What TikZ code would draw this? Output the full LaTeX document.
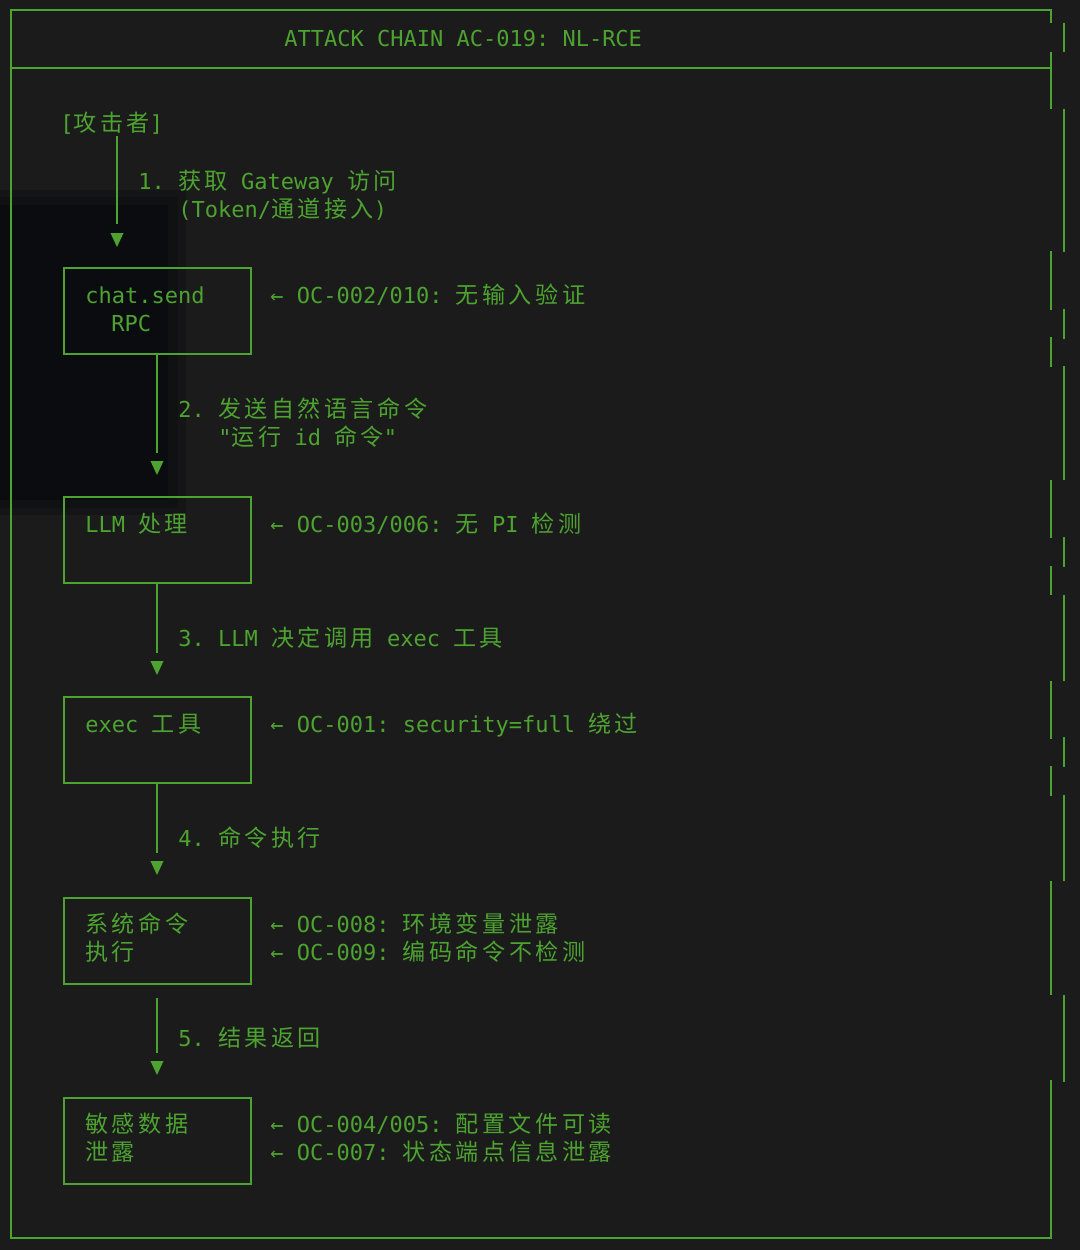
\documentclass[tikz,border=0pt]{standalone}
\usepackage{fontspec}
\newfontfamily\monofont{DejaVu Sans Mono}
\newfontfamily\cjkfont[Scale=1.05, LetterSpace=15]{Noto Sans CJK SC}
\newcommand\zh[1]{{\cjkfont #1}}
\usetikzlibrary{calc}
\frenchspacing

\definecolor{termgreen}{RGB}{77,163,48}
\definecolor{termbg}{RGB}{27,27,27}
\definecolor{termdark}{RGB}{11,12,16}

\tikzset{
  txt/.style={anchor=base west, inner sep=0pt, text=termgreen,
    font=\monofont\fontsize{11}{13}\selectfont},
  stepbox/.style={draw=termgreen, line width=1pt, anchor=north west,
    minimum width=93.5pt, minimum height=43pt, inner sep=0pt},
  flowline/.style={draw=termgreen, line width=1pt},
  frameline/.style={draw=termgreen, line width=1pt},
  tipfill/.style={fill=termgreen}
}

\begin{document}
\begin{tikzpicture}[x=0.5pt, y=-0.5pt]
    \useasboundingbox (0,0) rectangle (1080,1250);

    % Hintergrund (Terminal)
    \fill[termbg] (0,0) rectangle (1080,1250);
    \fill[termdark!40!termbg] (0,190) rectangle (186,515);
    \fill[termdark!70!termbg] (0,197) rectangle (178,508);
    \fill[termdark] (0,205) rectangle (168,500);

    % Rahmen und Titelzeile
    \draw[frameline] (1051,23) -- (1051,10) -- (11,10) -- (11,1238) -- (1051,1238) -- (1051,1080);
    \draw[frameline] (11,68) -- (1051,68);
    \foreach \xx/\ya/\yb in {1051/52/109, 1051/251/310, 1051/337/367, 1051/480/538,
        1051/566/595, 1051/681/739, 1051/766/796, 1051/881/995,
        1064/23/52, 1064/109/252, 1064/309/339, 1064/366/480, 1064/537/567,
        1064/595/681, 1064/737/767, 1064/795/881, 1064/995/1082}
      \draw[frameline] (\xx,\ya) -- (\xx,\yb);
    \node[txt] (title) at (284,46) {ATTACK CHAIN AC-019: NL-RCE};

    % Angreifer
    \node[txt] (attacker) at (60,131) {[\zh{攻击者}]};

    % Stufen der Kette
    \node[stepbox] (box1) at (63,267) {};
    \node[stepbox] (box2) at (63,496) {};
    \node[stepbox] (box3) at (63,696) {};
    \node[stepbox] (box4) at (63,897) {};
    \node[stepbox] (box5) at (63,1097) {};

    \node[txt] (box1a) at (85,303) {chat.send};
    \node[txt] (box1b) at (111,331) {RPC};
    \node[txt] (box2a) at (85,532) {LLM \zh{处理}};
    \node[txt] (box3a) at (85,732) {exec \zh{工具}};
    \node[txt] (box4a) at (85,932) {\zh{系统命令}};
    \node[txt] (box4b) at (85,960) {\zh{执行}};
    \node[txt] (box5a) at (85,1132) {\zh{敏感数据}};
    \node[txt] (box5b) at (85,1160) {\zh{泄露}};

    % Pfeilspitzen
    \coordinate (t1) at (117,240);
    \coordinate (t2) at (157,468);
    \coordinate (t3) at (157,668);
    \coordinate (t4) at (157,868);
    \coordinate (t5) at (157,1068);
    \foreach \t in {t1,t2,t3,t4,t5}
      \fill[tipfill] (\t) ++(-6.5,-7) -- ++(13,0) -- ++(-6.5,14) -- cycle;

    % Verbindungen
    \draw[flowline] ($(attacker.south -| t1)+(0,2)$) -- ($(t1)+(0,-16)$);
    \draw[flowline] (box1.south -| t2) -- ($(t2)+(0,-15)$);
    \draw[flowline] (box2.south -| t3) -- ($(t3)+(0,-15)$);
    \draw[flowline] (box3.south -| t4) -- ($(t4)+(0,-15)$);
    \draw[flowline] ($(box4.south -| t5)+(0,13)$) -- ($(t5)+(0,-15)$);

    % Schrittbeschriftungen
    \node[txt] (lbl1a) at (138,189) {1. \zh{获取} Gateway \zh{访问}};
    \node[txt] (lbl1b) at (178,217) {(Token/\zh{通道接入})};
    \node[txt] (lbl2a) at (178,417) {2. \zh{发送自然语言命令}};
    \node[txt] (lbl2b) at (218,445) {"\zh{运行} id \zh{命令}"};
    \node[txt] (lbl3) at (178,646) {3. LLM \zh{决定调用} exec \zh{工具}};
    \node[txt] (lbl4) at (178,846) {4. \zh{命令执行}};
    \node[txt] (lbl5) at (178,1046) {5. \zh{结果返回}};

    % Schwachstellen
    \node[txt] (oc1) at (270,303) {← OC-002/010: \zh{无输入验证}};
    \node[txt] (oc2) at (270,532) {← OC-003/006: \zh{无} PI \zh{检测}};
    \node[txt] (oc3) at (270,732) {← OC-001: security=full \zh{绕过}};
    \node[txt] (oc4a) at (270,932) {← OC-008: \zh{环境变量泄露}};
    \node[txt] (oc4b) at (270,960) {← OC-009: \zh{编码命令不检测}};
    \node[txt] (oc5a) at (270,1132) {← OC-004/005: \zh{配置文件可读}};
    \node[txt] (oc5b) at (270,1160) {← OC-007: \zh{状态端点信息泄露}};

\end{tikzpicture}
\end{document}
